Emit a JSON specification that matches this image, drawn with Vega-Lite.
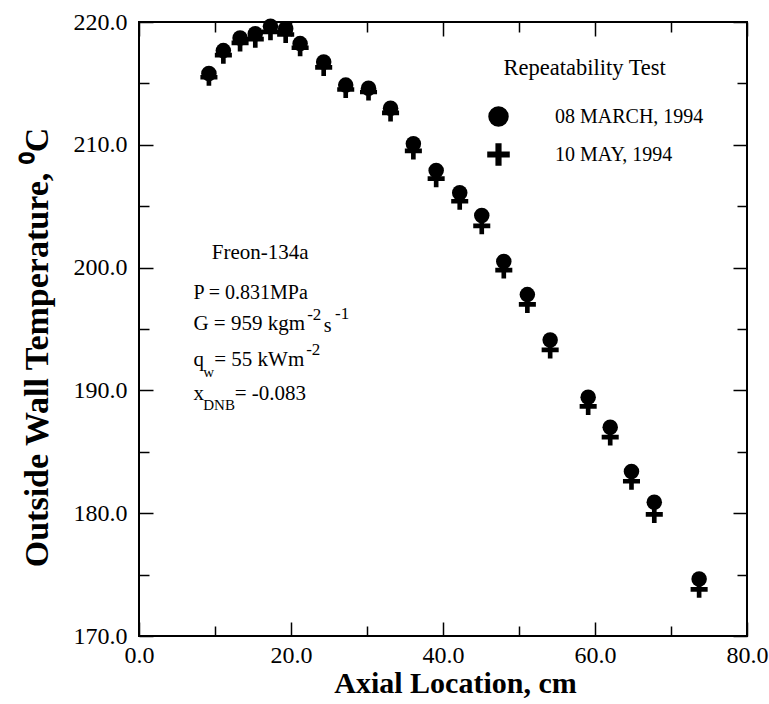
{
  "$schema": "https://vega.github.io/schema/vega-lite/v6.json",
  "width": 608,
  "height": 614,
  "autosize": "none",
  "padding": {"left": 139, "top": 22, "right": 22, "bottom": 68},
  "background": "white",
  "config": {
    "view": {"stroke": "black", "strokeWidth": 2},
    "font": "Liberation Serif"
  },
  "datasets": {
    "pts": [
      {"series": "08 MARCH, 1994", "x": 9.2, "t": 215.8},
      {"series": "08 MARCH, 1994", "x": 11.1, "t": 217.67},
      {"series": "08 MARCH, 1994", "x": 13.3, "t": 218.7},
      {"series": "08 MARCH, 1994", "x": 15.3, "t": 219.05},
      {"series": "08 MARCH, 1994", "x": 17.3, "t": 219.66},
      {"series": "08 MARCH, 1994", "x": 19.3, "t": 219.45},
      {"series": "08 MARCH, 1994", "x": 21.2, "t": 218.24},
      {"series": "08 MARCH, 1994", "x": 24.3, "t": 216.75},
      {"series": "08 MARCH, 1994", "x": 27.2, "t": 214.86},
      {"series": "08 MARCH, 1994", "x": 30.2, "t": 214.6},
      {"series": "08 MARCH, 1994", "x": 33.1, "t": 212.98},
      {"series": "08 MARCH, 1994", "x": 36.1, "t": 210.08},
      {"series": "08 MARCH, 1994", "x": 39.1, "t": 207.9},
      {"series": "08 MARCH, 1994", "x": 42.2, "t": 206.1},
      {"series": "08 MARCH, 1994", "x": 45.1, "t": 204.25},
      {"series": "08 MARCH, 1994", "x": 48.0, "t": 200.5},
      {"series": "08 MARCH, 1994", "x": 51.1, "t": 197.8},
      {"series": "08 MARCH, 1994", "x": 54.1, "t": 194.1},
      {"series": "08 MARCH, 1994", "x": 59.1, "t": 189.45},
      {"series": "08 MARCH, 1994", "x": 62.0, "t": 187.0},
      {"series": "08 MARCH, 1994", "x": 64.8, "t": 183.4},
      {"series": "08 MARCH, 1994", "x": 67.8, "t": 180.9},
      {"series": "08 MARCH, 1994", "x": 73.7, "t": 174.65},
      {"series": "10 MAY, 1994", "x": 9.2, "t": 215.5},
      {"series": "10 MAY, 1994", "x": 11.1, "t": 217.3},
      {"series": "10 MAY, 1994", "x": 13.3, "t": 218.3},
      {"series": "10 MAY, 1994", "x": 15.3, "t": 218.6},
      {"series": "10 MAY, 1994", "x": 17.3, "t": 219.2},
      {"series": "10 MAY, 1994", "x": 19.3, "t": 218.98},
      {"series": "10 MAY, 1994", "x": 21.2, "t": 217.9},
      {"series": "10 MAY, 1994", "x": 24.3, "t": 216.3},
      {"series": "10 MAY, 1994", "x": 27.2, "t": 214.5},
      {"series": "10 MAY, 1994", "x": 30.2, "t": 214.3},
      {"series": "10 MAY, 1994", "x": 33.1, "t": 212.6},
      {"series": "10 MAY, 1994", "x": 36.1, "t": 209.5},
      {"series": "10 MAY, 1994", "x": 39.1, "t": 207.24},
      {"series": "10 MAY, 1994", "x": 42.2, "t": 205.4},
      {"series": "10 MAY, 1994", "x": 45.1, "t": 203.4},
      {"series": "10 MAY, 1994", "x": 48.0, "t": 199.8},
      {"series": "10 MAY, 1994", "x": 51.1, "t": 197.0},
      {"series": "10 MAY, 1994", "x": 54.1, "t": 193.3},
      {"series": "10 MAY, 1994", "x": 59.1, "t": 188.7},
      {"series": "10 MAY, 1994", "x": 62.0, "t": 186.2},
      {"series": "10 MAY, 1994", "x": 64.8, "t": 182.6},
      {"series": "10 MAY, 1994", "x": 67.8, "t": 179.9},
      {"series": "10 MAY, 1994", "x": 73.7, "t": 173.8}
    ]
  },
  "layer": [
    {
      "data": {"name": "pts"},
      "transform": [{"filter": "datum.series === '08 MARCH, 1994'"}],
      "mark": {"type": "point", "filled": true, "opacity": 1, "color": "black", "size": 240, "strokeWidth": 0},
      "encoding": {
        "x": {
          "field": "x", "type": "quantitative",
          "scale": {"domain": [0, 80], "nice": false, "zero": false},
          "axis": {
            "orient": "bottom",
            "values": [0, 10, 20, 30, 40, 50, 60, 70, 80],
            "labelExpr": "datum.value % 20 === 0 ? format(datum.value, '.1f') : ''",
            "domain": false, "grid": false,
            "tickColor": "black", "tickWidth": 1.5,
            "tickSize": {"condition": {"test": "datum.value % 20 === 0", "value": -14}, "value": -10},
            "labelFont": "Liberation Serif", "labelFontSize": 24, "labelColor": "black",
            "labelPadding": 21, "labelFlush": false, "labelOverlap": false,
            "title": "Axial Location, cm",
            "titleFont": "Liberation Serif", "titleFontSize": 30, "titleFontWeight": "bold", "titleColor": "black",
            "titleX": 316, "titleY": 56, "titleBaseline": "alphabetic", "titleAlign": "center"
          }
        },
        "y": {
          "field": "t", "type": "quantitative",
          "scale": {"domain": [170, 220], "nice": false, "zero": false},
          "axis": {
            "orient": "left",
            "values": [170, 175, 180, 185, 190, 195, 200, 205, 210, 215, 220],
            "labelExpr": "datum.value % 10 === 0 ? format(datum.value, '.1f') : ''",
            "domain": false, "grid": false,
            "tickColor": "black", "tickWidth": 1.5,
            "tickSize": {"condition": {"test": "datum.value % 10 === 0", "value": -14}, "value": -10},
            "labelFont": "Liberation Serif", "labelFontSize": 24, "labelColor": "black",
            "labelPadding": 26, "labelFlush": false, "labelOverlap": false,
            "title": "Outside Wall Temperature, ⁰C",
            "titleFont": "Liberation Serif", "titleFontSize": 34, "titleFontWeight": "bold", "titleColor": "black",
            "titleAngle": -90, "titleX": -92, "titleY": 325, "titleBaseline": "alphabetic", "titleAlign": "center"
          }
        },
        "shape": {
          "field": "series", "type": "nominal",
          "scale": {"domain": ["08 MARCH, 1994", "10 MAY, 1994"], "range": ["circle", "M-0.3,-1.1H0.3V-0.3H1.1V0.3H0.3V1.1H-0.3V0.3H-1.1V-0.3H-0.3Z"]},
          "legend": {
            "orient": "none", "legendX": 349, "legendY": 84, "padding": 0,
            "title": null,
            "labelFont": "Liberation Serif", "labelFontSize": 20, "labelColor": "black", "labelOffset": 46,
            "symbolSize": 420, "symbolFillColor": "black", "symbolStrokeColor": "black", "symbolStrokeWidth": 0, "symbolOpacity": 1,
            "rowPadding": 16
          }
        }
      }
    },
    {
      "data": {"name": "pts"},
      "transform": [{"filter": "datum.series === '10 MAY, 1994'"}],
      "mark": {"type": "point", "filled": true, "opacity": 1, "color": "black", "size": 240, "strokeWidth": 0},
      "encoding": {
        "x": {
          "field": "x", "type": "quantitative",
          "axis": {
            "orient": "top",
            "values": [0, 10, 20, 30, 40, 50, 60, 70, 80],
            "labels": false, "title": null, "domain": false, "grid": false,
            "tickColor": "black", "tickWidth": 1.5,
            "tickSize": {"condition": {"test": "datum.value % 20 === 0", "value": -14}, "value": -10}
          }
        },
        "y": {
          "field": "t", "type": "quantitative",
          "axis": {
            "orient": "right",
            "values": [170, 175, 180, 185, 190, 195, 200, 205, 210, 215, 220],
            "labels": false, "title": null, "domain": false, "grid": false,
            "tickColor": "black", "tickWidth": 1.5,
            "tickSize": {"condition": {"test": "datum.value % 10 === 0", "value": -14}, "value": -10}
          }
        },
        "shape": {
          "field": "series", "type": "nominal",
          "legend": {
            "orient": "none", "legendX": 349, "legendY": 84, "padding": 0,
            "title": null,
            "labelFont": "Liberation Serif", "labelFontSize": 20, "labelColor": "black", "labelOffset": 46,
            "symbolSize": 420, "symbolFillColor": "black", "symbolStrokeColor": "black", "symbolStrokeWidth": 0, "symbolOpacity": 1,
            "rowPadding": 16
          }
        }
      }
    },
    {
      "data": {"values": [{"s": "Repeatability Test"}]},
      "mark": {"type": "text", "align": "left", "baseline": "alphabetic", "font": "Liberation Serif", "fontSize": 22.5, "color": "black"},
      "encoding": {"x": {"datum": 47.96, "type": "quantitative", "axis": null}, "y": {"datum": 215.7, "type": "quantitative", "axis": null}, "text": {"field": "s"}}
    },
    {
      "data": {"values": [{"s": "Freon-134a"}]},
      "mark": {"type": "text", "align": "left", "baseline": "alphabetic", "font": "Liberation Serif", "fontSize": 21, "color": "black"},
      "encoding": {"x": {"datum": 9.58, "type": "quantitative", "axis": null}, "y": {"datum": 200.72, "type": "quantitative", "axis": null}, "text": {"field": "s"}}
    },
    {
      "data": {"values": [{"s": "P = 0.831MPa"}]},
      "mark": {"type": "text", "align": "left", "baseline": "alphabetic", "font": "Liberation Serif", "fontSize": 20, "color": "black"},
      "encoding": {"x": {"datum": 7.16, "type": "quantitative", "axis": null}, "y": {"datum": 197.45, "type": "quantitative", "axis": null}, "text": {"field": "s"}}
    },
    {
      "data": {"values": [{"s": "G = 959 kgm"}]},
      "mark": {"type": "text", "align": "left", "baseline": "alphabetic", "font": "Liberation Serif", "fontSize": 21, "color": "black"},
      "encoding": {"x": {"datum": 7.16, "type": "quantitative", "axis": null}, "y": {"datum": 194.92, "type": "quantitative", "axis": null}, "text": {"field": "s"}}
    },
    {
      "data": {"values": [{"s": "-2"}]},
      "mark": {"type": "text", "align": "left", "baseline": "alphabetic", "font": "Liberation Serif", "fontSize": 17, "color": "black"},
      "encoding": {"x": {"datum": 22.13, "type": "quantitative", "axis": null}, "y": {"datum": 195.75, "type": "quantitative", "axis": null}, "text": {"field": "s"}}
    },
    {
      "data": {"values": [{"s": "s"}]},
      "mark": {"type": "text", "align": "left", "baseline": "alphabetic", "font": "Liberation Serif", "fontSize": 20, "color": "black"},
      "encoding": {"x": {"datum": 24.3, "type": "quantitative", "axis": null}, "y": {"datum": 194.75, "type": "quantitative", "axis": null}, "text": {"field": "s"}}
    },
    {
      "data": {"values": [{"s": "-1"}]},
      "mark": {"type": "text", "align": "left", "baseline": "alphabetic", "font": "Liberation Serif", "fontSize": 17, "color": "black"},
      "encoding": {"x": {"datum": 25.8, "type": "quantitative", "axis": null}, "y": {"datum": 195.85, "type": "quantitative", "axis": null}, "text": {"field": "s"}}
    },
    {
      "data": {"values": [{"s": "q"}]},
      "mark": {"type": "text", "align": "left", "baseline": "alphabetic", "font": "Liberation Serif", "fontSize": 21, "color": "black"},
      "encoding": {"x": {"datum": 7.16, "type": "quantitative", "axis": null}, "y": {"datum": 192.0, "type": "quantitative", "axis": null}, "text": {"field": "s"}}
    },
    {
      "data": {"values": [{"s": "w"}]},
      "mark": {"type": "text", "align": "left", "baseline": "alphabetic", "font": "Liberation Serif", "fontSize": 15, "color": "black"},
      "encoding": {"x": {"datum": 8.45, "type": "quantitative", "axis": null}, "y": {"datum": 191.1, "type": "quantitative", "axis": null}, "text": {"field": "s"}}
    },
    {
      "data": {"values": [{"s": "= 55 kWm"}]},
      "mark": {"type": "text", "align": "left", "baseline": "alphabetic", "font": "Liberation Serif", "fontSize": 21, "color": "black"},
      "encoding": {"x": {"datum": 9.9, "type": "quantitative", "axis": null}, "y": {"datum": 192.0, "type": "quantitative", "axis": null}, "text": {"field": "s"}}
    },
    {
      "data": {"values": [{"s": "-2"}]},
      "mark": {"type": "text", "align": "left", "baseline": "alphabetic", "font": "Liberation Serif", "fontSize": 17, "color": "black"},
      "encoding": {"x": {"datum": 22.0, "type": "quantitative", "axis": null}, "y": {"datum": 192.85, "type": "quantitative", "axis": null}, "text": {"field": "s"}}
    },
    {
      "data": {"values": [{"s": "x"}]},
      "mark": {"type": "text", "align": "left", "baseline": "alphabetic", "font": "Liberation Serif", "fontSize": 21, "color": "black"},
      "encoding": {"x": {"datum": 7.16, "type": "quantitative", "axis": null}, "y": {"datum": 189.22, "type": "quantitative", "axis": null}, "text": {"field": "s"}}
    },
    {
      "data": {"values": [{"s": "DNB"}]},
      "mark": {"type": "text", "align": "left", "baseline": "alphabetic", "font": "Liberation Serif", "fontSize": 15, "color": "black"},
      "encoding": {"x": {"datum": 8.45, "type": "quantitative", "axis": null}, "y": {"datum": 188.4, "type": "quantitative", "axis": null}, "text": {"field": "s"}}
    },
    {
      "data": {"values": [{"s": "= -0.083"}]},
      "mark": {"type": "text", "align": "left", "baseline": "alphabetic", "font": "Liberation Serif", "fontSize": 21, "color": "black"},
      "encoding": {"x": {"datum": 12.6, "type": "quantitative", "axis": null}, "y": {"datum": 189.22, "type": "quantitative", "axis": null}, "text": {"field": "s"}}
    }
  ],
  "resolve": {"axis": {"x": "independent", "y": "independent"}}
}
